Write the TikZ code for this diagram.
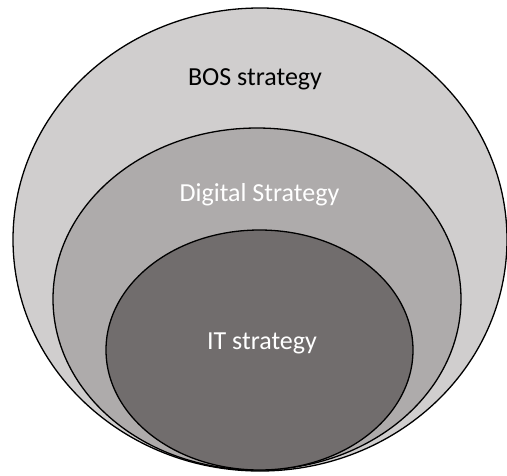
\documentclass[tikz,border=0pt]{standalone}
\usepackage{fontspec}
\setmainfont{Carlito}
\usetikzlibrary{shapes.geometric}
\definecolor{outerfill}{HTML}{D0CECE}
\definecolor{midfill}{HTML}{AEABAB}
\definecolor{innerfill}{HTML}{716D6D}
\tikzset{
  ring/.style={ellipse, draw=black, line width=1.3pt, inner sep=0pt, outer sep=0pt},
  lbl/.style={font=\fontsize{26}{31}\selectfont, inner sep=0pt}
}
\begin{document}
\begin{tikzpicture}[x=1pt,y=-1pt]
\useasboundingbox (0,0) rectangle (507,475);
\fill[white] (0,0) rectangle (507,475);
\node[ring, fill=outerfill, minimum width=494pt, minimum height=463pt] (bos) at (260,239.5) {};
\node[ring, fill=midfill, minimum width=408pt, minimum height=342pt] (dig) at (257,299) {};
\node[ring, fill=innerfill, minimum width=307pt, minimum height=240pt] (it) at (259.5,350) {};
\node[lbl, text=black] (bost) at (255,79) {BOS strategy};
\node[lbl, text=white] (digt) at (259.5,195) {Digital Strategy};
\node[lbl, text=white] (itt) at (262,343) {IT strategy};
\end{tikzpicture}
\end{document}
